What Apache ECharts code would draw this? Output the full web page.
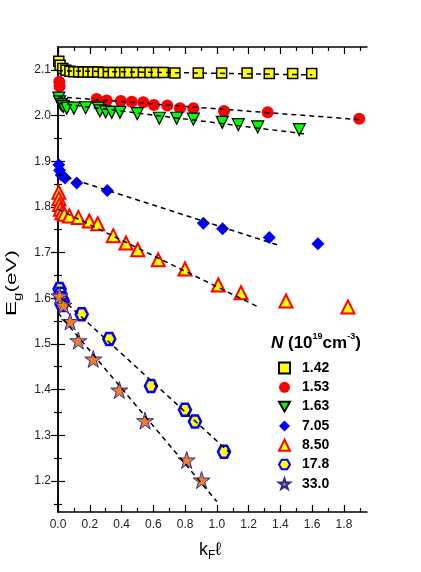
<!DOCTYPE html>
<html>
<head>
<meta charset="utf-8">
<script src="https://cdn.jsdelivr.net/npm/echarts@6/dist/echarts.min.js"></script>
<style>
  html, body { margin: 0; background: #fff; }
  #main { width: 421px; height: 572px; }
</style>
</head>
<body>
<div id="main"></div>
<script>
// axis ticks
const xLabels = [0, 0.2, 0.4, 0.6, 0.8, 1.0, 1.2, 1.4, 1.6, 1.8]
const xMinor = [0.1, 0.3, 0.5, 0.7, 0.9, 1.1, 1.3, 1.5, 1.7, 1.9]
const yLabels = [1.2, 1.3, 1.4, 1.5, 1.6, 1.7, 1.8, 1.9, 2.0, 2.1]
const yMinor = [1.15, 1.25, 1.35, 1.45, 1.55, 1.65, 1.75, 1.85, 1.95, 2.05]

// N in 10^19 cm^-3
const names = ['1.42', '1.53', '1.63', '7.05', '8.50', '17.8', '33.0']

// [kFl, Eg]
const s142 = [[0.005, 2.119], [0.013, 2.110], [0.030, 2.103], [0.050, 2.099], [0.075, 2.097], [0.10, 2.096],
  [0.13, 2.096], [0.16, 2.095], [0.19, 2.095], [0.22, 2.095], [0.25, 2.095], [0.285, 2.094], [0.317, 2.094],
  [0.348, 2.094], [0.39, 2.094], [0.42, 2.094], [0.45, 2.094], [0.495, 2.094], [0.537, 2.094], [0.579, 2.094],
  [0.62, 2.094], [0.663, 2.094], [0.736, 2.093], [0.883, 2.093], [1.03, 2.093], [1.19, 2.093], [1.33, 2.092],
  [1.477, 2.092], [1.597, 2.092]]
const s153 = [[0.008, 2.074], [0.010, 2.064], [0.243, 2.036], [0.306, 2.033], [0.395, 2.032], [0.464, 2.030],
  [0.537, 2.029], [0.604, 2.023], [0.688, 2.022], [0.768, 2.016], [0.852, 2.016], [1.045, 2.010], [1.32, 2.007],
  [1.896, 1.993]]
const s163 = [[0.005, 2.038], [0.010, 2.030], [0.020, 2.024], [0.033, 2.020], [0.055, 2.016], [0.10, 2.016],
  [0.174, 2.017], [0.254, 2.016], [0.264, 2.010], [0.30, 2.008], [0.338, 2.007], [0.39, 2.007], [0.499, 2.004],
  [0.638, 1.994], [0.747, 1.994], [0.852, 1.992], [1.034, 1.985], [1.135, 1.980], [1.257, 1.975], [1.519, 1.969]]
const s705 = [[0.005, 1.892], [0.010, 1.880], [0.020, 1.870], [0.044, 1.863], [0.118, 1.852], [0.31, 1.836],
  [0.915, 1.764], [1.036, 1.752], [1.33, 1.733], [1.636, 1.719]]
const s850 = [[0.005, 1.832], [0.006, 1.818], [0.010, 1.805], [0.015, 1.795], [0.025, 1.787], [0.040, 1.784],
  [0.071, 1.780], [0.128, 1.777], [0.197, 1.769], [0.25, 1.763], [0.348, 1.737], [0.428, 1.721], [0.502, 1.706],
  [0.631, 1.684], [0.799, 1.664], [1.009, 1.629], [1.152, 1.612], [1.435, 1.594], [1.825, 1.581]]
const s178 = [[0.010, 1.620], [0.015, 1.610], [0.020, 1.600], [0.030, 1.594], [0.025, 1.585], [0.149, 1.565],
  [0.323, 1.511], [0.585, 1.408], [0.799, 1.356], [0.862, 1.330], [1.045, 1.264]]
const s330 = [[0.010, 1.605], [0.035, 1.585], [0.076, 1.549], [0.128, 1.507], [0.222, 1.467], [0.386, 1.399],
  [0.548, 1.332], [0.81, 1.246], [0.904, 1.202]]

// linear fits (dashed)
const fit142 = [[0, 2.098], [1.6, 2.089]]
const fit153 = [[0, 2.041], [1.9, 1.991]]
const fit163 = [[0, 2.027], [1.57, 1.959]]
const fit705 = [[0, 1.871], [1.38, 1.717]]
const fit850 = [[0, 1.795], [1.26, 1.581]]
const fit178 = [[0.02, 1.600], [1.08, 1.262]]
const fit330 = [[0, 1.568], [1.0, 1.155]]

const hexagon = 'path://M25,0 L75,0 L100,43 L75,86 L25,86 L0,43 Z'
const star = 'path://M50,0 L61,35 L98,35 L68,57 L79,91 L50,70 L21,91 L32,57 L2,35 L39,35 Z'
const triDown = 'path://M0,0 L100,0 L50,87 Z'

const chart = echarts.init(document.getElementById('main'))

function axis (pos, ticks, len, labels, extra) {
  return Object.assign({
    type: 'value',
    position: pos,
    splitLine: { show: false },
    axisLine: { show: !!labels, lineStyle: { color: '#000', width: 1.5 } },
    axisTick: { show: true, inside: true, length: len, customValues: ticks, lineStyle: { color: '#000', width: 1.2 } },
    axisLabel: labels
      ? { show: true, customValues: labels, formatter: v => v.toFixed(1), color: '#222', fontSize: 12, fontFamily: 'Liberation Sans, Arial', margin: 7 }
      : { show: false, customValues: ticks },
  }, extra)
}

const xr = { min: 0, max: 1.945 }
const yr = { min: 1.132, max: 2.15 }

function scatter (name, data, symbol, size, color, border, bw) {
  return {
    type: 'scatter', name, data, symbol, symbolSize: size, z: 2,
    itemStyle: { color, borderColor: border || color, borderWidth: bw || 0, opacity: 1 },
  }
}
function fit (data) {
  return {
    type: 'line', data, symbol: 'none', z: 5, silent: true,
    lineStyle: { color: '#000', width: 1.5, type: [5, 4] },
  }
}

chart.setOption({
  animation: false,
  grid: { left: 58, right: 54, top: 47, bottom: 60 },
  xAxis: [
    axis('bottom', xLabels, 7, xLabels, xr),
    axis('bottom', xMinor, 4, null, xr),
    axis('top', xLabels, 7, null, Object.assign({ axisLine: { show: true, lineStyle: { color: '#000', width: 1.5 } } }, xr)),
    axis('top', xMinor, 4, null, xr),
  ],
  yAxis: [
    axis('left', yLabels, 7, yLabels, yr),
    axis('left', yMinor, 4, null, yr),
    axis('right', yLabels, 7, null, Object.assign({ axisLine: { show: true, lineStyle: { color: '#000', width: 1.5 } } }, yr)),
    axis('right', yMinor, 4, null, yr),
  ],
  legend: {
    orient: 'vertical', left: 278, top: 361, padding: 0, itemWidth: 11, itemHeight: 11, itemGap: 5.3,
    data: names,
    textStyle: { fontSize: 14, fontWeight: 'bold', color: '#000', fontFamily: 'Liberation Sans, Arial', padding: [0, 0, 0, 7] },
  },
  graphic: [
    {
      type: 'text', left: 271, top: 332,
      style: {
        text: '{n|N}{b| (10}{s|19}{b|cm}{s|-3}{b|)}',
        rich: {
          n: { fontSize: 17, fontWeight: 'bold', fontStyle: 'italic', fontFamily: 'Liberation Sans, Arial', lineHeight: 22 },
          b: { fontSize: 17, fontWeight: 'bold', fontFamily: 'Liberation Sans, Arial', lineHeight: 22 },
          s: { fontSize: 9, fontWeight: 'bold', fontFamily: 'Liberation Sans, Arial', lineHeight: 11, verticalAlign: 'top' },
        },
      },
    },
    {
      type: 'text', x: 12, y: 283, rotation: Math.PI / 2, scaleX: 1.5,
      style: {
        text: '{e|E}{g|g}{e|(eV)}', align: 'center', verticalAlign: 'middle',
        rich: {
          e: { fontSize: 15, fontFamily: 'Liberation Sans, Arial', color: '#000', lineHeight: 22 },
          g: { fontSize: 10, fontFamily: 'Liberation Sans, Arial', color: '#000', lineHeight: 10, verticalAlign: 'bottom' },
        },
      },
    },
    {
      type: 'text', x: 210, y: 550,
      style: {
        text: '{k|k}{f|F}{k|ℓ}', align: 'center', verticalAlign: 'middle',
        rich: {
          k: { fontSize: 18, fontFamily: 'Liberation Sans, Arial', color: '#000', lineHeight: 24 },
          f: { fontSize: 12, fontFamily: 'Liberation Sans, Arial', color: '#000', lineHeight: 12, verticalAlign: 'bottom' },
        },
      },
    },
  ],
  series: [
    scatter(names[0], s142, 'rect', 10, '#ffff00', '#000', 1.5),
    scatter(names[1], s153, 'circle', 12, '#ff0000'),
    scatter(names[2], s163, triDown, 12, '#00ff00', '#000', 1.2),
    scatter(names[3], s705, 'diamond', 13, '#0000ff'),
    scatter(names[4], s850, 'triangle', 13, '#ffff00', '#ff0000', 2),
    scatter(names[5], s178, hexagon, 12, '#ffff00', '#0000ff', 2.5),
    scatter(names[6], s330, star, 17, '#f07e26', '#2a2aa0', 1),
    fit(fit142), fit(fit153), fit(fit163), fit(fit705), fit(fit850), fit(fit178), fit(fit330),
  ],
})
</script>
</body>
</html>
